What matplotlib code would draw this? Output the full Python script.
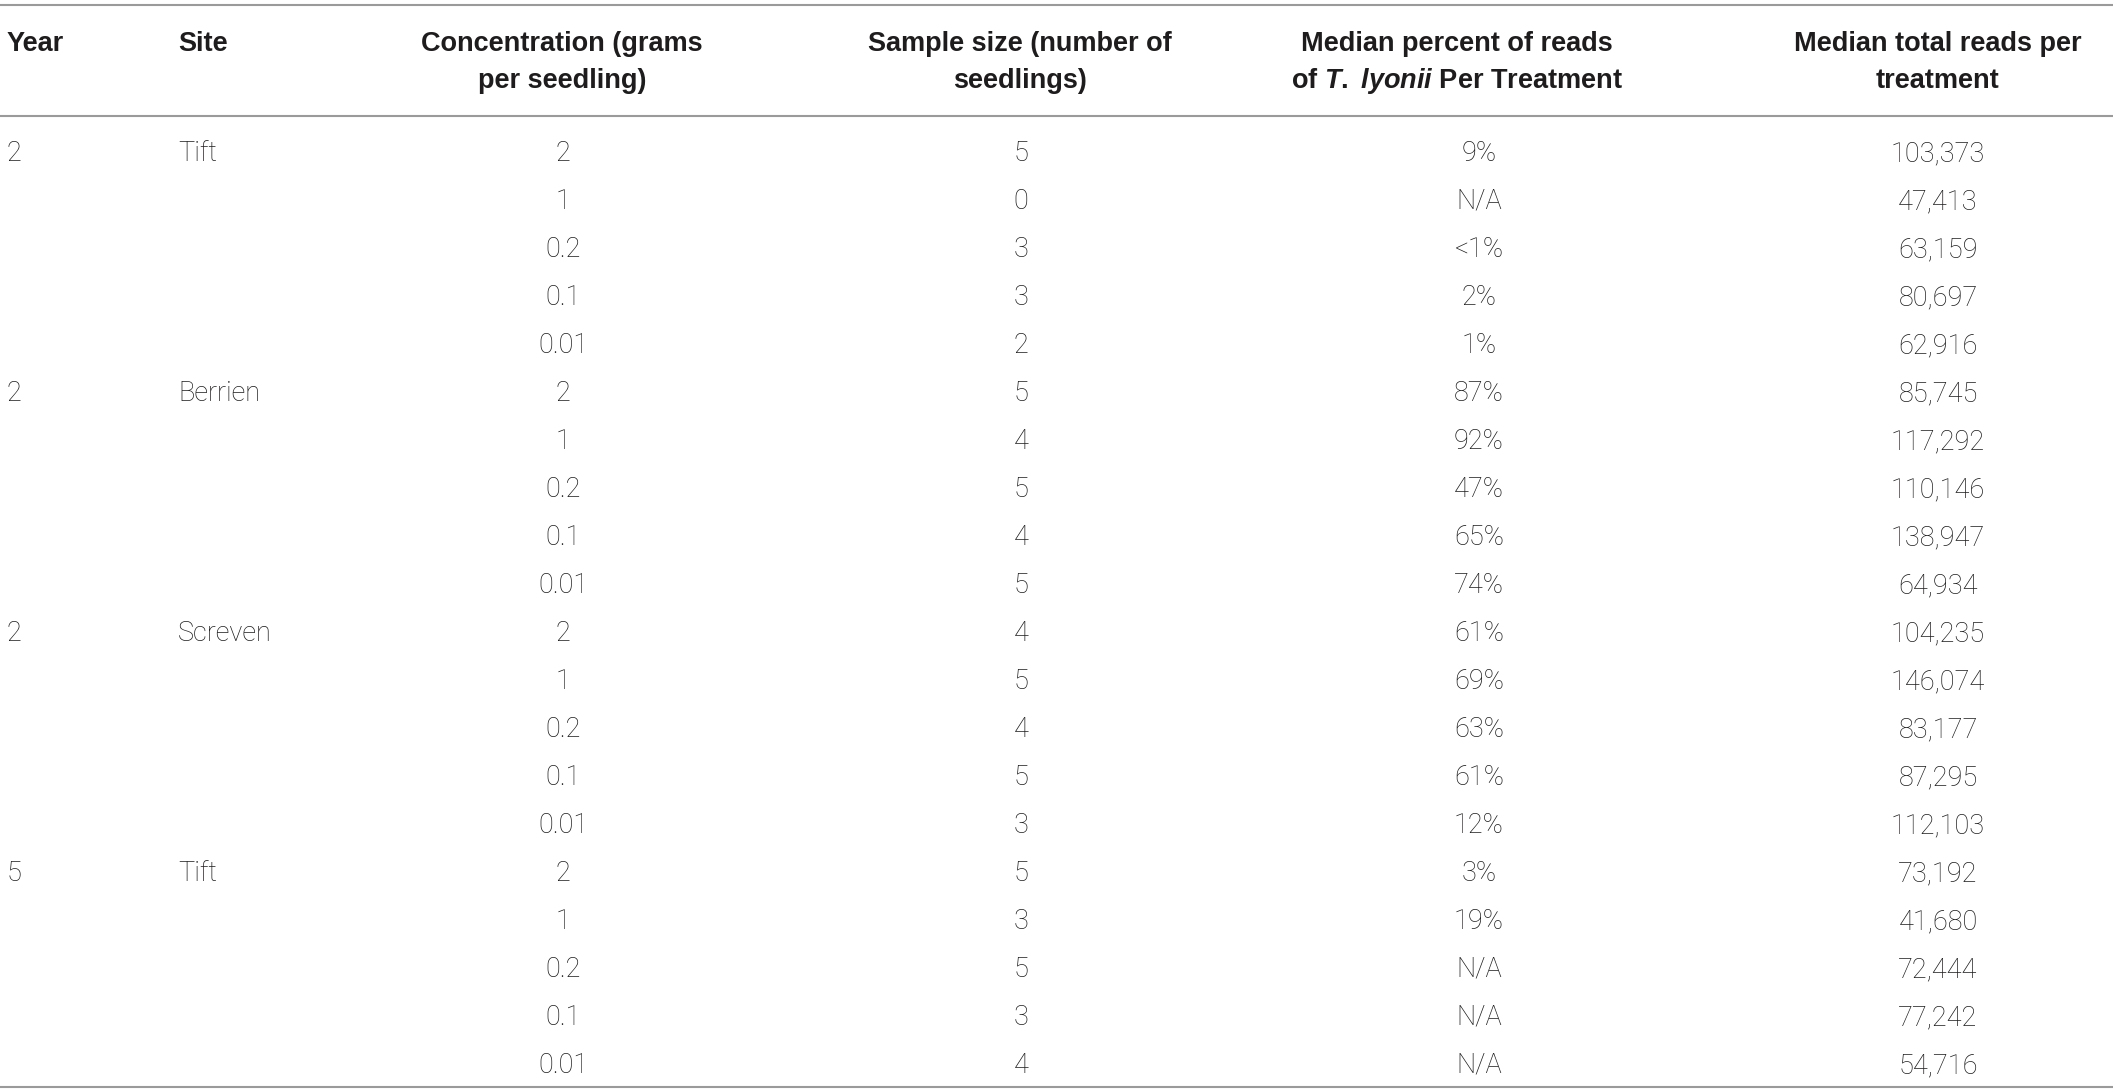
import matplotlib.pyplot as plt

# Table data
years = ["2", "", "", "", "", "2", "", "", "", "", "2", "", "", "", "", "5", "", "", "", ""]
sites = ["Tift", "", "", "", "", "Berrien", "", "", "", "", "Screven", "", "", "", "",
         "Tift", "", "", "", ""]
concentration = ["2", "1", "0.2", "0.1", "0.01"] * 4
sample_size = ["5", "0", "3", "3", "2",
               "5", "4", "5", "4", "5",
               "4", "5", "4", "5", "3",
               "5", "3", "5", "3", "4"]
percent_reads = ["9%", "N/A", "<1%", "2%", "1%",
                 "87%", "92%", "47%", "65%", "74%",
                 "61%", "69%", "63%", "61%", "12%",
                 "3%", "19%", "N/A", "N/A", "N/A"]
total_reads = ["103,373", "47,413", "63,159", "80,697", "62,916",
               "85,745", "117,292", "110,146", "138,947", "64,934",
               "104,235", "146,074", "83,177", "87,295", "112,103",
               "73,192", "41,680", "72,444", "77,242", "54,716"]

# en-tetes, une liste de lignes par colonne
headers = [["Year"], ["Site"],
           ["Concentration (grams", "per seedling)"],
           ["Sample size (number of", "seedlings)"],
           ["Median percent of reads", "of $T.$ $lyonii$ Per Treatment"],
           ["Median total reads per", "treatment"]]

plt.rcParams['mathtext.fontset'] = 'custom'
plt.rcParams['mathtext.it'] = 'Liberation Sans:italic:bold'
plt.rcParams['mathtext.rm'] = 'Liberation Sans:bold'

W, H = 2118, 1092
fig = plt.figure(figsize=(W / 100, H / 100), dpi=100)
ax = fig.add_axes([0, 0, 1, 1])
ax.set_xlim(0, W)
ax.set_ylim(H, 0)
ax.axis('off')

txt_color = '#1e1c1c'
line_color = '#9a9a9a'

# colonnes : (x, alignement)
cols = [(7, 'left'), (178, 'left'), (563, 'center'), (1021, 'center'),
        (1479, 'center'), (1938, 'center')]
head_x = [7, 178, 562, 1020, 1457, 1938]

# En-tetes
for i, lines in enumerate(headers):
    for k, line in enumerate(lines):
        ax.text(head_x[i], 51 + 37 * k, line, ha=cols[i][1], va='baseline',
                fontsize=19.5, fontweight='bold', family='Liberation Sans',
                color=txt_color)

# Lignes horizontales
for y in [5, 116, 1087]:
    ax.plot([0, 2113], [y, y], color=line_color, lw=1.5, solid_capstyle='butt')

# Corps du tableau
columns = [years, sites, concentration, sample_size, percent_reads, total_reads]
for r in range(len(concentration)):
    y = 161 + 48 * r
    for c, values in enumerate(columns):
        ax.text(cols[c][0], y, values[r], ha=cols[c][1], va='baseline',
                fontsize=19.5, fontweight='light', family='Roboto',
                color=txt_color)

plt.savefig("out.png", dpi=100)
plt.close()
